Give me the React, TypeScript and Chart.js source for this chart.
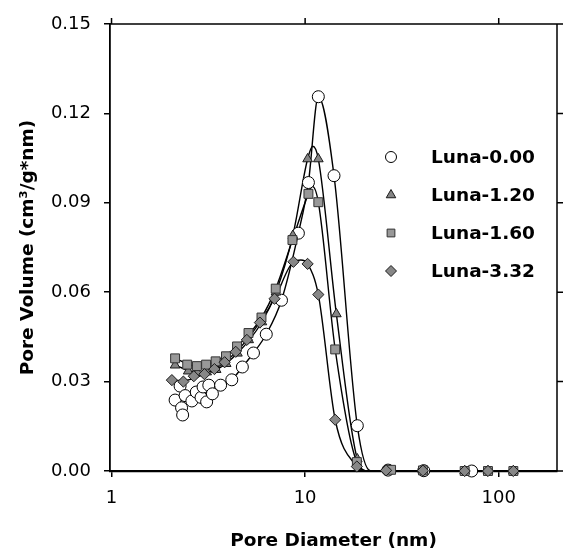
import React, { useEffect, useRef } from 'react';
import { Chart, registerables } from 'chart.js';
import { drawPoint } from 'chart.js/helpers';

Chart.register(...registerables);

const FONT = "'DejaVu Sans', sans-serif";

// ---- axis ticks ----
const xTickValues = [1, 10, 100];
const yTickValues = [0, 0.03, 0.06, 0.09, 0.12, 0.15];

// ---- series names ----
const seriesNames = ['Luna-0.00', 'Luna-1.20', 'Luna-1.60', 'Luna-3.32'];

// ---- Luna-0.00 (circles) ----
const circD = [2.13, 2.26, 2.30, 2.33, 2.40, 2.60, 2.74, 2.90, 2.97, 3.10, 3.18, 3.32, 3.66, 4.18, 4.74, 5.41, 6.30, 7.55, 9.23, 10.4, 11.7, 14.1, 18.6, 26.8, 41, 72.5];
const circV = [0.0238, 0.0285, 0.0212, 0.0188, 0.0253, 0.0235, 0.0265, 0.0247, 0.0282, 0.0232, 0.0288, 0.0259, 0.0288, 0.0306, 0.0349, 0.0396, 0.0459, 0.0573, 0.0798, 0.0968, 0.1256, 0.0991, 0.0152, 0.0003, 0.0001, 0];
const circCurveD = [2.13, 2.40, 2.74, 3.10, 3.66, 4.18, 4.74, 5.41, 6.30, 7.55, 9.23, 10.4, 11.7, 14.1, 18.6, 21.8, 26.8, 41, 72.5];
const circCurveV = [0.0225, 0.0245, 0.0255, 0.0262, 0.0288, 0.0306, 0.0349, 0.0396, 0.0459, 0.0573, 0.0798, 0.0968, 0.1256, 0.0991, 0.0152, 0, 0, 0, 0];

// ---- Luna-1.20 (triangles) ----
const triD = [2.13, 2.49, 2.78, 3.10, 3.47, 3.91, 4.47, 5.11, 5.98, 7.07, 8.64, 10.3, 11.7, 14.5, 18.6, 27.5, 40.6, 66.7, 88, 119];
const triV = [0.0355, 0.0335, 0.033, 0.0332, 0.034, 0.036, 0.0395, 0.044, 0.05, 0.06, 0.079, 0.1047, 0.1047, 0.0527, 0.004, 0.0004, 0.0002, 0, 0, 0];
const triCurveD = [2.13, 2.78, 3.47, 4.47, 5.98, 7.07, 8.64, 10.3, 10.95, 11.7, 14.5, 18.6, 21.0, 27.5, 119];
const triCurveV = [0.0355, 0.033, 0.034, 0.0395, 0.05, 0.06, 0.079, 0.1047, 0.109, 0.1047, 0.0527, 0.004, 0, 0, 0];

// ---- Luna-1.60 (squares) ----
const sqD = [2.13, 2.46, 2.76, 3.08, 3.45, 3.90, 4.45, 5.10, 5.95, 7.05, 8.60, 10.4, 11.7, 14.3, 18.5, 27.8, 40.6, 66.7, 88, 119];
const sqV = [0.0378, 0.0357, 0.0352, 0.0357, 0.0368, 0.0385, 0.0418, 0.0463, 0.0515, 0.0612, 0.0775, 0.093, 0.0902, 0.0408, 0.003, 0.0004, 0.0002, 0, 0, 0];
const sqCurveD = [2.13, 2.76, 3.45, 4.45, 5.95, 7.05, 8.6, 10.4, 10.9, 11.7, 14.3, 18.5, 21.3, 27.8, 119];
const sqCurveV = [0.0378, 0.0352, 0.0368, 0.0418, 0.0515, 0.0612, 0.0775, 0.093, 0.0955, 0.0902, 0.0408, 0.003, 0, 0, 0];

// ---- Luna-3.32 (diamonds) ----
const diaD = [2.05, 2.35, 2.66, 3.02, 3.40, 3.84, 4.38, 5.00, 5.84, 6.95, 8.70, 10.3, 11.7, 14.3, 18.5, 26.2, 40.6, 66.7, 88, 119];
const diaV = [0.0305, 0.03, 0.0318, 0.0325, 0.0342, 0.0365, 0.04, 0.044, 0.0498, 0.0578, 0.0702, 0.0695, 0.0592, 0.0172, 0.0015, 0.0002, 0.0001, 0, 0, 0];
const diaCurveD = [2.05, 2.35, 3.02, 3.84, 5.0, 6.95, 8.7, 9.5, 10.3, 11.7, 14.3, 18.5, 20.3, 26.2, 119];
const diaCurveV = [0.0305, 0.0303, 0.0325, 0.0365, 0.044, 0.0578, 0.0702, 0.0708, 0.0695, 0.0592, 0.0172, 0.0015, 0, 0, 0];

const pts = (d: number[], v: number[]) => d.map((x, i) => ({ x, y: v[i] }));

const markerStyles = [
  { pointStyle: 'circle', radius: 6, legendRadius: 5.5, fill: '#ffffff', border: '#000000' },
  { pointStyle: 'triangle', radius: 5.6, legendRadius: 5.5, fill: '#858585', border: '#1a1a1a' },
  { pointStyle: 'rect', radius: 6.3, legendRadius: 5.5, fill: '#989898', border: '#333333' },
  { pointStyle: 'rectRot', radius: 5.6, legendRadius: 5.5, fill: '#878787', border: '#1a1a1a' },
];

const markerData = [pts(circD, circV), pts(triD, triV), pts(sqD, sqV), pts(diaD, diaV)];
const curveData = [
  pts(circCurveD, circCurveV),
  pts(triCurveD, triCurveV),
  pts(sqCurveD, sqCurveV),
  pts(diaCurveD, diaCurveV),
];

const framePlugin = {
  id: 'frameAndLegend',
  afterDraw(chart: any) {
    const { ctx, chartArea: a, scales } = chart;
    ctx.save();
    ctx.strokeStyle = '#000';
    ctx.lineWidth = 1.5;
    ctx.beginPath();
    ctx.moveTo(a.left, a.top);
    ctx.lineTo(a.right, a.top);
    ctx.lineTo(a.right, a.bottom);
    xTickValues.forEach((v) => {
      const x = scales.x.getPixelForValue(v);
      ctx.moveTo(x, a.top);
      ctx.lineTo(x, a.top - 6);
    });
    yTickValues.forEach((v) => {
      const y = scales.y.getPixelForValue(v);
      ctx.moveTo(a.right, y);
      ctx.lineTo(a.right + 6, y);
    });
    ctx.stroke();

    // legend inside plot
    const lx = 391;
    const tx = 431;
    const y0 = 157;
    const dy = 38;
    seriesNames.forEach((name, i) => {
      const s = markerStyles[i];
      const y = y0 + i * dy;
      ctx.fillStyle = s.fill;
      ctx.strokeStyle = s.border;
      ctx.lineWidth = 1;
      drawPoint(ctx, { pointStyle: s.pointStyle, radius: s.legendRadius, rotation: 0, borderWidth: 1 } as any, lx, y);
      ctx.fillStyle = '#000';
      ctx.font = `bold 18.5px ${FONT}`;
      ctx.textAlign = 'left';
      ctx.textBaseline = 'middle';
      ctx.fillText(name, tx, y + 1);
    });
    ctx.restore();
  },
};

export default function App() {
  const ref = useRef<HTMLCanvasElement | null>(null);

  useEffect(() => {
    if (!ref.current) return;
    const markerSets = markerData
      .map((data, i) => ({
        label: seriesNames[i],
        data,
        showLine: false,
        pointStyle: markerStyles[i].pointStyle as any,
        pointRadius: markerStyles[i].radius,
        pointBackgroundColor: markerStyles[i].fill,
        pointBorderColor: markerStyles[i].border,
        pointBorderWidth: 1,
        clip: false as any,
      }))
      .reverse();
    const curveSets = curveData.map((data, i) => ({
      label: seriesNames[i] + ' curve',
      data,
      showLine: true,
      pointRadius: 0,
      borderColor: '#000',
      borderWidth: 1.4,
      cubicInterpolationMode: 'monotone' as const,
      fill: false,
      clip: false as any,
    }));

    const chart = new Chart(ref.current, {
      type: 'scatter',
      data: { datasets: [...markerSets, ...curveSets] as any },
      options: {
        responsive: false,
        animation: false,
        devicePixelRatio: 1,
        layout: { padding: { top: 24, right: 25, left: 0, bottom: 0 } },
        plugins: { legend: { display: false }, tooltip: { enabled: false } },
        scales: {
          x: {
            type: 'logarithmic',
            min: 0.982,
            max: 200,
            afterBuildTicks: (s: any) => {
              s.ticks = xTickValues.map((v) => ({ value: v }));
            },
            afterFit: (s: any) => {
              s.height = 79;
            },
            grid: { drawOnChartArea: false, drawTicks: true, tickLength: 6, color: '#000', lineWidth: 1.5 },
            border: { display: true, color: '#000', width: 2.2 },
            ticks: {
              autoSkip: false,
              maxRotation: 0,
              padding: 11,
              color: '#000',
              font: { family: FONT, size: 18 },
              callback: (v: any) => String(v),
            },
            title: {
              display: true,
              text: 'Pore Diameter (nm)',
              color: '#000',
              font: { family: FONT, size: 18.5, weight: 'bold', lineHeight: 1 },
              padding: { top: 0, bottom: 0 },
            },
          },
          y: {
            min: 0,
            max: 0.15,
            afterBuildTicks: (s: any) => {
              s.ticks = yTickValues.map((v) => ({ value: v }));
            },
            afterFit: (s: any) => {
              s.width = 110;
            },
            grid: { drawOnChartArea: false, drawTicks: true, tickLength: 6, color: '#000', lineWidth: 1.5 },
            border: { display: true, color: '#000', width: 1.8 },
            ticks: {
              padding: 13,
              color: '#000',
              font: { family: FONT, size: 18 },
              callback: (v: any) => Number(v).toFixed(2),
            },
            title: {
              display: true,
              text: 'Pore Volume (cm³/g*nm)',
              color: '#000',
              font: { family: FONT, size: 18.5, weight: 'bold' },
              padding: { top: 17, bottom: 0 },
            },
          },
        },
      },
      plugins: [framePlugin],
    });
    return () => chart.destroy();
  }, []);

  return (
    <div style={{ position: 'absolute', left: 0, top: 0, width: 582, height: 550, background: '#fff' }}>
      <canvas ref={ref} width={582} height={550} />
    </div>
  );
}
